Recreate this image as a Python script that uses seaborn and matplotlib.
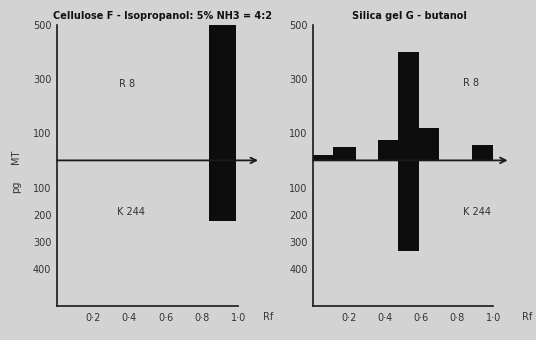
import matplotlib
matplotlib.use("Agg")
import matplotlib.pyplot as plt
import matplotlib.transforms as mtransforms
import seaborn as sns
import numpy as np
import pandas as pd

sns.set_style("white")
plt.rcParams['font.family'] = ['DejaVu Sans']

BG = "#d3d3d3"
INK = "#1a1a1a"

# ---- data ----
left_title = "Cellulose F - Isopropanol: 5% NH3 = 4:2"
right_title = "Silica gel G - butanol"

left_edges = [0.84, 0.99]
left_r8 = [500]
left_k244 = [225]

right_edges = [0.0, 0.11, 0.24, 0.36, 0.47, 0.59, 0.70, 0.88, 1.0]
right_r8 = [20, 50, 0, 75, 400, 120, 0, 55]
right_k244 = [0, 0, 0, 0, 335, 0, 0, 0]

ytick_vals = [500, 300, 100, -100, -200, -300, -400]
ytick_labels = ["500", "300", "100", "100", "200", "300", "400"]
yminor_vals = [400, 200]
xtick_vals = [0.2, 0.4, 0.6, 0.8, 1.0]
xtick_labels = ["0·2", "0·4", "0·6", "0·8", "1·0"]

fig = plt.figure(figsize=(5.36, 3.40), dpi=100, facecolor=BG)

def panel(rect, edges, r8, k244, title, title_x, arrow_end, r8_pos, k_pos, rf_x):
    ax = fig.add_axes(rect)
    ax.set_facecolor(BG)
    e = np.asarray(edges, dtype=float)
    centers = (e[:-1] + e[1:]) / 2
    df = pd.DataFrame({"rf": centers,
                       "up": np.asarray(r8, dtype=float),
                       "down": -np.asarray(k244, dtype=float)})
    for col in ["up", "down"]:
        sns.histplot(data=df, x="rf", weights=col, bins=list(e), ax=ax,
                     color="#0d0d0d", alpha=1, linewidth=0, stat="count")
    ax.set_xlim(0, 1.16)
    ax.set_ylim(-537, 510)
    for s in ["top", "right"]:
        ax.spines[s].set_visible(False)
    ax.spines["left"].set_bounds(-537, 500)
    ax.spines["bottom"].set_bounds(0, 1.0)
    for s in ["left", "bottom"]:
        ax.spines[s].set_color(INK)
        ax.spines[s].set_linewidth(1.2)
    ax.set_yticks(ytick_vals)
    ax.set_yticklabels(ytick_labels)
    ax.set_yticks(yminor_vals, minor=True)
    ax.set_xticks(xtick_vals)
    ax.set_xticklabels(xtick_labels)
    ax.tick_params(axis="y", which="both", direction="out", length=3, width=1,
                   color=INK, labelsize=7, labelcolor="#333333", pad=1)
    ax.tick_params(axis="x", direction="in", length=3, width=1, color=INK,
                   labelsize=7, labelcolor="#333333", pad=5)
    ax.set_xlabel("")
    ax.set_ylabel("")
    ax.annotate("", xy=(arrow_end, 0), xytext=(0, 0),
                arrowprops=dict(arrowstyle="->", color=INK, lw=1.3,
                                shrinkA=0, shrinkB=0))
    ax.text(r8_pos[0], r8_pos[1], "R 8", fontsize=7, color="#333333",
            ha="left", va="center")
    ax.text(k_pos[0], k_pos[1], "K 244", fontsize=7, color="#333333",
            ha="left", va="center")
    ax.text(title_x, 1.005, title, transform=ax.transAxes, ha="center",
            va="bottom", fontsize=7, fontweight="bold", color="#111111")
    trans = mtransforms.blended_transform_factory(ax.transData, ax.transAxes)
    ax.text(rf_x, -0.04, "Rf", transform=trans, fontsize=7, color="#333333",
            ha="left", va="center")
    return ax

ax1 = panel([0.1063, 0.10, 0.392, 0.835], left_edges, left_r8, left_k244,
            left_title, 0.5, 1.11, (0.34, 280), (0.33, -190), 1.14)
ax2 = panel([0.584, 0.10, 0.39, 0.835], right_edges, right_r8, right_k244,
            right_title, 0.46, 1.08, (0.83, 285), (0.83, -190), 1.16)

fig.text(0.03, 1 - 157 / 340, "MT", rotation=90, fontsize=7, color="#333333",
         ha="center", va="center")
fig.text(0.03, 1 - 187 / 340, "pg", rotation=90, fontsize=7, color="#333333",
         ha="center", va="center")

fig.savefig("out.png", dpi=100, facecolor=BG)
